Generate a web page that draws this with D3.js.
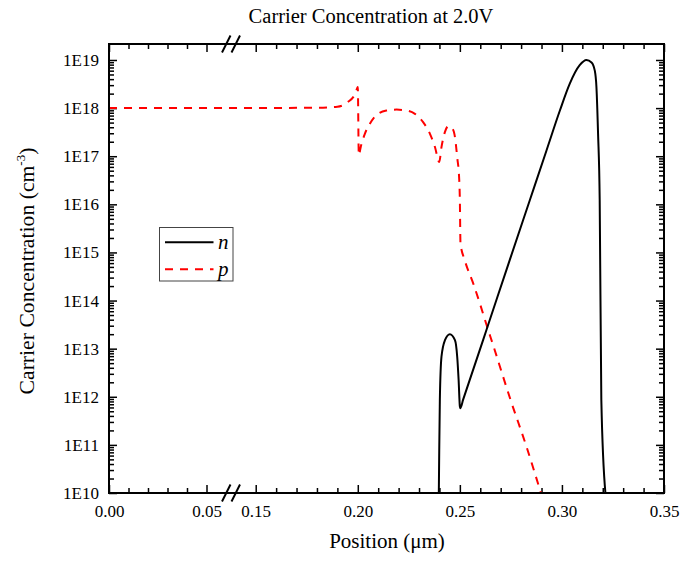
<!DOCTYPE html>
<html>
<head>
<meta charset="utf-8">
<script src="https://cdn.jsdelivr.net/npm/d3@7"></script>
<style>
  html, body { margin: 0; padding: 0; background: #fff; }
  svg { display: block; font-family: "Liberation Serif", "Times New Roman", serif; }
</style>
</head>
<body>
<svg id="chart" width="680" height="561"></svg>
<script>
// ---- data ----
const title = "Carrier Concentration at 2.0V";
const xTitle = "Position (\u03bcm)";
const yTitleMain = "Carrier Concentration (cm";
const yTitleSup = "-3";

const pPosition = [0, 0.06, 0.14, 0.18, 0.19, 0.195, 0.199, 0.2, 0.2005, 0.2015, 0.2035, 0.206, 0.209, 0.214, 0.219, 0.224, 0.228, 0.232, 0.2353, 0.2378, 0.2399, 0.2410, 0.2427, 0.2443, 0.2464, 0.2476, 0.2487, 0.2497, 0.2500, 0.2503, 0.2524, 0.2565, 0.2598, 0.2631, 0.2671, 0.2712, 0.2748, 0.2826, 0.2897];
const pValue = [1e18, 1e18, 1e18, 1.02e18, 1.07e18, 1.32e18, 2.1e18, 2.75e18, 1.05e17, 1.6e17, 2.95e17, 4.8e17, 7.1e17, 8.9e17, 9.3e17, 8.9e17, 7.6e17, 5.1e17, 2.95e17, 1.55e17, 7.6e16, 1.55e17, 3.2e17, 4.2e17, 3.7e17, 2.5e17, 9.5e16, 3.2e16, 1.23e16, 1.55e15, 6.9e14, 2.3e14, 8.7e13, 3.1e13, 9.3e12, 2.6e12, 8.7e11, 9.3e10, 1.0e10];

const nPosition = [0.2397, 0.2399, 0.2402, 0.2410, 0.2427, 0.2451, 0.2476, 0.2487, 0.2494, 0.2500, 0.2502, 0.2516, 0.2631, 0.2745, 0.2843, 0.2924, 0.2990, 0.3038, 0.3087, 0.3120, 0.3145, 0.3161, 0.3169, 0.3177, 0.3185, 0.3193, 0.3213];
const nValue = [1e10, 8e10, 8.7e11, 6.8e12, 1.5e13, 2.0e13, 1.5e13, 6.8e12, 2.2e12, 6.3e11, 5.8e11, 8.7e11, 2.5e13, 7.1e14, 1.23e16, 1.3e17, 8.9e17, 3.2e18, 7.8e18, 1.0e19, 8.9e18, 6.0e18, 2.75e18, 2.95e17, 1.23e16, 8.7e11, 1e10];

const xTicksLeft = [0, 0.01, 0.02, 0.03, 0.04, 0.05];
const xMajorLeft = [0, 0.05];
const xTicksRight = [0.15, 0.16, 0.17, 0.18, 0.19, 0.20, 0.21, 0.22, 0.23, 0.24, 0.25, 0.26, 0.27, 0.28, 0.29, 0.30, 0.31, 0.32, 0.33, 0.34, 0.35];
const xMajorRight = [0.15, 0.20, 0.25, 0.30, 0.35];
const yMajor = [1e10, 1e11, 1e12, 1e13, 1e14, 1e15, 1e16, 1e17, 1e18, 1e19];
const yMajorLabels = ["1E10", "1E11", "1E12", "1E13", "1E14", "1E15", "1E16", "1E17", "1E18", "1E19"];
const yMinorMultipliers = [2, 3, 4, 5, 6, 7, 8, 9];

const legendItems = [
  { label: "n", color: "#000", dash: null },
  { label: "p", color: "#ff0000", dash: "8,7" }
];

// ---- layout ----
const L = 109, R = 664, T = 44, B = 493;
const breakLeft = 226, breakRight = 235.3;

const svg = d3.select("#chart");

const xLeft = d3.scaleLinear().domain([0, 0.06]).range([L, breakLeft]);
const xRight = d3.scaleLinear().domain([0.14, 0.35]).range([breakRight, R]);
const xPos = v => (v <= 0.06 ? xLeft(v) : xRight(v));
const y = d3.scaleLog().domain([1e10, 2.15e19]).range([B, T]);

const yMinor = [];
yMajor.forEach(m => yMinorMultipliers.forEach(k => { const v = m * k; if (v < 2.0e19) yMinor.push(v); }));

// clip
svg.append("clipPath").attr("id", "clip").append("rect")
  .attr("x", L).attr("y", T).attr("width", R - L).attr("height", B - T);

// ---- axes (ticks inward) ----
function styleAxis(g) {
  g.select(".domain").remove();
  g.selectAll(".tick line").attr("stroke", "#000").attr("stroke-width", 1.5);
  g.selectAll(".tick text").attr("font-size", 17).attr("fill", "#000")
    .attr("font-family", "Liberation Serif, Times New Roman, serif");
}

// left / right y
svg.append("g").attr("transform", `translate(${L},0)`)
  .call(d3.axisLeft(y).tickValues(yMinor).tickSize(-5).tickFormat(""))
  .call(styleAxis);
svg.append("g").attr("transform", `translate(${L},0)`)
  .call(d3.axisLeft(y).tickValues(yMajor).tickSize(-8).tickPadding(10)
    .tickFormat((d, i) => yMajorLabels[i]))
  .call(styleAxis);
svg.append("g").attr("transform", `translate(${R},0)`)
  .call(d3.axisRight(y).tickValues(yMinor).tickSize(-5).tickFormat(""))
  .call(styleAxis);
svg.append("g").attr("transform", `translate(${R},0)`)
  .call(d3.axisRight(y).tickValues(yMajor).tickSize(-8).tickFormat(""))
  .call(styleAxis);

// bottom / top x, two segments
[[xLeft, xTicksLeft, xMajorLeft], [xRight, xTicksRight, xMajorRight]].forEach(([sc, ticks, majors]) => {
  const minors = ticks.filter(t => !majors.some(m => Math.abs(m - t) < 1e-9));
  svg.append("g").attr("transform", `translate(0,${B})`)
    .call(d3.axisBottom(sc).tickValues(minors).tickSize(-5).tickFormat(""))
    .call(styleAxis);
  svg.append("g").attr("transform", `translate(0,${B})`)
    .call(d3.axisBottom(sc).tickValues(majors).tickSize(-8).tickPadding(12).tickFormat(d3.format(".2f")))
    .call(styleAxis);
  svg.append("g").attr("transform", `translate(0,${T})`)
    .call(d3.axisTop(sc).tickValues(minors).tickSize(-5).tickFormat(""))
    .call(styleAxis);
  svg.append("g").attr("transform", `translate(0,${T})`)
    .call(d3.axisTop(sc).tickValues(majors).tickSize(-8).tickFormat(""))
    .call(styleAxis);
});

// ---- lines ----
const line = d3.line().x(d => xPos(d[0])).y(d => y(d[1])).curve(d3.curveMonotoneX);
const plot = svg.append("g").attr("clip-path", "url(#clip)");

plot.append("path")
  .datum(pPosition.map((p, i) => [p, pValue[i]]))
  .attr("d", line).attr("fill", "none")
  .attr("stroke", "#ff0000").attr("stroke-width", 2).attr("stroke-dasharray", "8,7");

plot.append("path")
  .datum(nPosition.map((p, i) => [p, nValue[i]]))
  .attr("d", line).attr("fill", "none")
  .attr("stroke", "#000").attr("stroke-width", 2);

// ---- frame ----
svg.append("rect").attr("x", L).attr("y", T).attr("width", R - L).attr("height", B - T)
  .attr("fill", "none").attr("stroke", "#000").attr("stroke-width", 2);

// break marks
[T, B].forEach(yy => {
  [[222, 230.5], [231.5, 240]].forEach(([x0, x1]) => {
    svg.append("line").attr("x1", x0).attr("y1", yy + 8.5).attr("x2", x1).attr("y2", yy - 8.5)
      .attr("stroke", "#000").attr("stroke-width", 2);
  });
});

// ---- titles ----
svg.append("text").attr("x", 371).attr("y", 23).attr("text-anchor", "middle")
  .attr("font-size", 20.5).attr("fill", "#000").text(title);

svg.append("text").attr("x", 387).attr("y", 548).attr("text-anchor", "middle")
  .attr("font-size", 21).attr("fill", "#000").text(xTitle);

const yt = svg.append("text").attr("transform", `translate(34,271) rotate(-90)`)
  .attr("text-anchor", "middle").attr("font-size", 21.7).attr("fill", "#000");
yt.append("tspan").text(yTitleMain);
yt.append("tspan").attr("font-size", 13).attr("dy", -9).text(yTitleSup);
yt.append("tspan").attr("dy", 9).text(")");

// ---- legend ----
const lg = svg.append("g");
lg.append("rect").attr("x", 159.5).attr("y", 227.5).attr("width", 73.5).attr("height", 53.5)
  .attr("fill", "#fff").attr("stroke", "#444").attr("stroke-width", 1);
legendItems.forEach((it, i) => {
  const yy = 242.3 + i * 27;
  lg.append("line").attr("x1", 165).attr("x2", 213.5).attr("y1", yy).attr("y2", yy)
    .attr("stroke", it.color).attr("stroke-width", 2)
    .attr("stroke-dasharray", it.dash);
  lg.append("text").attr("x", 218).attr("y", yy + 7).attr("font-size", 21)
    .attr("font-style", "italic").attr("fill", "#000").text(it.label);
});
</script>
</body>
</html>
